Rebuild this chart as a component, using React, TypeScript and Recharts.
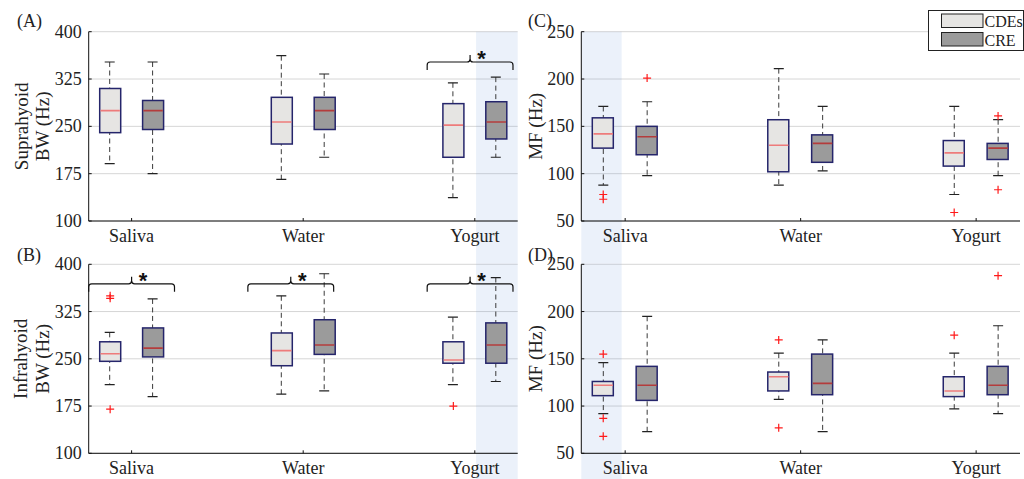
import React from 'react';
import {
  ComposedChart,
  Bar,
  Scatter,
  XAxis,
  YAxis,
  CartesianGrid,
  ReferenceArea,
  ReferenceLine,
} from 'recharts';

// ---------------- data ----------------
const categories = ['Saliva', 'Water', 'Yogurt'];
const groups = ['CDEs', 'CRE'];

// each row: [lower whisker, Q1, median, Q3, upper whisker] for Saliva, Water, Yogurt
const supraCDEs = [[191, 240, 275, 310, 352], [166, 222, 257, 296, 362], [137, 201, 252, 286, 319]];
const supraCRE = [[175, 245, 275, 291, 352], [201, 245, 275, 296, 333], [201, 230, 257, 289, 328]];
const supraCDEsOut: number[][] = [[], [], []];
const supraCREOut: number[][] = [[], [], []];

const infraCDEs = [[209, 246, 258, 277, 292], [194, 239, 263, 291, 350], [209, 243, 248, 277, 316]];
const infraCRE = [[190, 253, 267, 299, 345], [199, 257, 272, 312, 385], [214, 243, 272, 307, 379]];
const infraCDEsOut = [[350, 346, 170], [], [175]];
const infraCREOut: number[][] = [[], [], []];

const mfSupraCDEs = [[88, 127, 142, 159, 171], [88, 102, 130, 157, 211], [78, 108, 122, 135, 171]];
const mfSupraCRE = [[98, 120, 139, 150, 176], [103, 112, 132, 141, 171], [98, 115, 127, 132, 157]];
const mfSupraCDEsOut = [[78, 73], [], [59]];
const mfSupraCREOut = [[201], [], [161, 83]];

const mfInfraCDEs = [[92, 111, 122, 126, 146], [107, 116, 131, 136, 156], [97, 110, 116, 131, 156]];
const mfInfraCRE = [[73, 106, 122, 142, 195], [73, 112, 124, 155, 170], [92, 112, 122, 142, 185]];
const mfInfraCDEsOut = [[155, 87, 68], [170, 77], [175]];
const mfInfraCREOut: number[][] = [[], [], [238]];

const bwTicks = [100, 175, 250, 325, 400];
const mfTicks = [50, 100, 150, 200, 250];

// significant comparisons (category index, bracket height in Hz)
const supraSig = [{ cat: 2, level: 352 }];
const infraSig = [{ cat: 0, level: 369 }, { cat: 1, level: 369 }, { cat: 2, level: 369 }];

// ---------------- style / layout ----------------
const FONT = 'Liberation Serif, Times New Roman, serif';
const TXT = '#222';
const W = 1024;
const H = 479;
const SLOTS = 10; // 3 categories x (2 boxes) spread over 10 slots
const FILL = ['#e6e5e3', '#9b9b9b'];
const BOX_STROKE = '#25256b';
const BOX_W = 21;
const CAP_W = 10;
const bracketShift = [0, -0.29, -0.11];

const slotOf = (cat: number, g: number) => cat * 4 + g;

function buildRows(cde: number[][], cre: number[][]) {
  const rows: any[] = [];
  for (let s = 0; s < SLOTS; s++) {
    const row: any = { slot: 's' + s };
    const c = Math.floor(s / 4);
    const g = s % 4;
    if (g < 2) {
      const st = (g === 0 ? cde : cre)[c];
      row.whisker = [st[0], st[4]];
      row.box = [st[1], st[3]];
      row.group = g;
    }
    rows.push(row);
  }
  return rows;
}

function buildMedians(cde: number[][], cre: number[][]) {
  const pts: any[] = [];
  [cde, cre].forEach((arr, g) =>
    arr.forEach((st, c) => pts.push({ x: slotOf(c, g) + 0.5, y: st[2], group: g }))
  );
  return pts;
}

function buildOutliers(cdeO: number[][], creO: number[][]) {
  const pts: any[] = [];
  [cdeO, creO].forEach((arr, g) =>
    arr.forEach((vals, c) => vals.forEach((v) => pts.push({ x: slotOf(c, g) + 0.5, y: v })))
  );
  return pts;
}

const WhiskerShape = (p: any) => {
  const { x, y, width, height } = p;
  if (![x, y, width, height].every((v) => Number.isFinite(v))) return <g />;
  const top = Math.min(y, y + height);
  const bot = Math.max(y, y + height);
  const cx = x + width / 2;
  return (
    <g>
      <line x1={cx} x2={cx} y1={top} y2={bot} stroke="#3a3a3a" strokeWidth={1} strokeDasharray="5 3.5" />
      <line x1={cx - CAP_W / 2} x2={cx + CAP_W / 2} y1={top} y2={top} stroke="#222" strokeWidth={1.2} />
      <line x1={cx - CAP_W / 2} x2={cx + CAP_W / 2} y1={bot} y2={bot} stroke="#222" strokeWidth={1.2} />
    </g>
  );
};

const BoxShape = (p: any) => {
  const { x, y, width, height, payload } = p;
  if (![x, y, width, height].every((v) => Number.isFinite(v))) return <g />;
  const top = Math.min(y, y + height);
  const h = Math.abs(height);
  return (
    <rect
      x={x}
      y={top}
      width={width}
      height={h}
      fill={FILL[payload?.group ?? 0]}
      stroke={BOX_STROKE}
      strokeWidth={1.5}
    />
  );
};

const MedianShape = (p: any) => {
  const { cx, cy, payload } = p;
  if (!Number.isFinite(cx) || !Number.isFinite(cy)) return <g />;
  return (
    <line
      x1={cx - BOX_W / 2 + 0.8}
      x2={cx + BOX_W / 2 - 0.8}
      y1={cy}
      y2={cy}
      stroke={payload?.group === 1 ? '#b43c3c' : '#ee7b7b'}
      strokeWidth={1.6}
    />
  );
};

const OutlierShape = (p: any) => {
  const { cx, cy } = p;
  if (!Number.isFinite(cx) || !Number.isFinite(cy)) return <g />;
  const a = 4;
  return (
    <g stroke="#ff1a1a" strokeWidth={1.2}>
      <line x1={cx - a} x2={cx + a} y1={cy} y2={cy} />
      <line x1={cx} x2={cx} y1={cy - a} y2={cy + a} />
    </g>
  );
};

const BracketShape = (p: any) => {
  const { x1, x2, y1 } = p;
  if (![x1, x2, y1].every((v) => Number.isFinite(v))) return <g />;
  const y = y1;
  const xm = (x1 + x2) / 2;
  const d =
    `M${x1},${y + 8} L${x1},${y + 3} Q${x1},${y} ${x1 + 3},${y} L${xm - 3},${y} Q${xm},${y} ${xm},${y - 3} L${xm},${y - 7} ` +
    `M${xm},${y - 3} Q${xm},${y} ${xm + 3},${y} L${x2 - 3},${y} Q${x2},${y} ${x2},${y + 3} L${x2},${y + 8}`;
  return (
    <g>
      <path d={d} fill="none" stroke="#111" strokeWidth={1.2} />
      <text
        x={xm + 11.5}
        y={y + 4.5}
        textAnchor="middle"
        fontFamily="Liberation Sans, Arial, sans-serif"
        fontWeight="bold"
        fontSize={22}
        fill="#111"
      >
        *
      </text>
    </g>
  );
};

const YTick = (p: any) => (
  <text x={p.x} y={p.y + 6} textAnchor="end" fontFamily={FONT} fontSize={18} fill={TXT}>
    {p.payload.value}
  </text>
);

const XTick = (p: any) => (
  <text x={p.x} y={p.y + 21} textAnchor="middle" fontFamily={FONT} fontSize={18} fill={TXT}>
    {categories[Math.round((p.payload.value - 1) / 4)]}
  </text>
);

const Empty = () => <g />;

interface PanelProps {
  l: number;
  r: number;
  t: number;
  b: number;
  domain: [number, number];
  ticks: number[];
  cde: number[][];
  cre: number[][];
  cdeOut: number[][];
  creOut: number[][];
  ylabel: string[];
  ylabelX: number[];
  letter: string;
  letterX: number;
  letterY: number;
  sig: { cat: number; level: number }[];
  shade: { x1: number; x2: number; y1: number; y2: number };
}

function Panel(pp: PanelProps) {
  const rows = buildRows(pp.cde, pp.cre);
  const meds = buildMedians(pp.cde, pp.cre);
  const outs = buildOutliers(pp.cdeOut, pp.creOut);
  const yW = 60;
  const xH = 30;
  const margin = { left: pp.l - yW, right: W - pp.r, top: pp.t, bottom: H - pp.b - xH };
  const cy = (pp.t + pp.b) / 2;
  return (
    <div style={{ position: 'absolute', left: 0, top: 0, width: W, height: H }}>
      <ComposedChart width={W} height={H} data={rows} margin={margin} style={{ overflow: 'visible' }}>
        <CartesianGrid horizontal vertical={false} stroke="#d6d6d6" strokeWidth={1} />
        <XAxis xAxisId="cw" dataKey="slot" type="category" hide />
        <XAxis xAxisId="cb" dataKey="slot" type="category" hide />
        <XAxis
          xAxisId={0}
          type="number"
          dataKey="x"
          domain={[0, SLOTS]}
          ticks={[1, 5, 9]}
          allowDataOverflow
          interval={0}
          height={xH}
          tickSize={-3}
          tickMargin={3}
          tick={XTick}
          axisLine={{ stroke: '#111' }}
          tickLine={{ stroke: '#111' }}
        />
        <XAxis
          xAxisId="top"
          orientation="top"
          type="number"
          domain={[0, SLOTS]}
          ticks={[1, 5, 9]}
          allowDataOverflow
          interval={0}
          height={0}
          tickSize={-3}
          tick={Empty}
          axisLine={{ stroke: '#111' }}
          tickLine={{ stroke: '#111' }}
        />
        <YAxis
          yAxisId={0}
          type="number"
          domain={pp.domain}
          ticks={pp.ticks}
          allowDataOverflow
          interval={0}
          width={yW}
          tickSize={-3}
          tickMargin={10}
          tick={YTick}
          axisLine={{ stroke: '#111' }}
          tickLine={{ stroke: '#111' }}
        />
        <YAxis
          yAxisId="r"
          orientation="right"
          type="number"
          domain={pp.domain}
          ticks={pp.ticks}
          allowDataOverflow
          interval={0}
          width={0}
          tickSize={-3}
          tick={Empty}
          axisLine={{ stroke: '#111' }}
          tickLine={{ stroke: '#111' }}
        />
        <Bar xAxisId="cw" dataKey="whisker" barSize={CAP_W} shape={WhiskerShape} isAnimationActive={false} />
        <Bar xAxisId="cb" dataKey="box" barSize={BOX_W} shape={BoxShape} isAnimationActive={false} />
        <Scatter data={meds} dataKey="y" shape={MedianShape} isAnimationActive={false} />
        <Scatter data={outs} dataKey="y" shape={OutlierShape} isAnimationActive={false} />
        {pp.sig.map((s, i) => {
          const c = slotOf(s.cat, 0) + 1 + bracketShift[s.cat];
          return (
            <ReferenceLine
              key={i}
              segment={[
                { x: c - 1.0, y: s.level },
                { x: c + 1.0, y: s.level },
              ]}
              ifOverflow="visible"
              shape={BracketShape}
            />
          );
        })}
        <ReferenceArea
          x1={pp.shade.x1}
          x2={pp.shade.x2}
          y1={pp.shade.y1}
          y2={pp.shade.y2}
          ifOverflow="visible"
          fill="rgb(100,150,220)"
          fillOpacity={0.13}
          stroke="none"
        />
      </ComposedChart>
      <svg
        width={W}
        height={H}
        style={{ position: 'absolute', left: 0, top: 0, pointerEvents: 'none', overflow: 'visible' }}
      >
        {pp.ylabel.map((txt, i) => (
          <text
            key={i}
            x={pp.ylabelX[i]}
            y={cy}
            transform={`rotate(-90 ${pp.ylabelX[i]} ${cy})`}
            textAnchor="middle"
            dominantBaseline="central"
            fontFamily={FONT}
            fontSize={19}
            fill={TXT}
          >
            {txt}
          </text>
        ))}
        <text x={pp.letterX} y={pp.letterY} fontFamily={FONT} fontSize={18} fill={TXT}>
          {pp.letter}
        </text>
      </svg>
    </div>
  );
}

function LegendBox() {
  return (
    <svg width={W} height={H} style={{ position: 'absolute', left: 0, top: 0, pointerEvents: 'none' }}>
      <rect x={928.5} y={10.5} width={95} height={40} fill="#fff" stroke="#222" strokeWidth={1} />
      {groups.map((g, i) => (
        <g key={g}>
          <rect x={941.5} y={14 + i * 18.5} width={41.5} height={13.5} fill={FILL[i]} stroke="#222" strokeWidth={1} />
          <text x={984.5} y={27 + i * 18.5} fontFamily={FONT} fontSize={16} fill={TXT}>
            {g}
          </text>
        </g>
      ))}
    </svg>
  );
}

export default function App() {
  const L1 = 88.7, R1 = 517.7, L2 = 581.3, R2 = 1020;
  const T1 = 31.7, B1 = 221, T2 = 264.3, B2 = 453.3;
  return (
    <div style={{ position: 'absolute', left: 0, top: 0, width: W, height: H, background: '#fff', overflow: 'hidden' }}>
      <Panel
        l={L1} r={R1} t={T1} b={B1}
        domain={[100, 400]} ticks={bwTicks}
        cde={supraCDEs} cre={supraCRE} cdeOut={supraCDEsOut} creOut={supraCREOut}
        ylabel={['Suprahyoid', 'BW (Hz)']} ylabelX={[22, 43]}
        letter="(A)" letterX={17} letterY={27}
        sig={supraSig}
        shade={{ x1: 9.03, x2: 10, y1: 31.4, y2: 400 }}
      />
      <Panel
        l={L1} r={R1} t={T2} b={B2}
        domain={[100, 400]} ticks={bwTicks}
        cde={infraCDEs} cre={infraCRE} cdeOut={infraCDEsOut} creOut={infraCREOut}
        ylabel={['Infrahyoid', 'BW (Hz)']} ylabelX={[21, 43]}
        letter="(B)" letterX={17} letterY={261}
        sig={infraSig}
        shade={{ x1: 9.03, x2: 10, y1: 59.3, y2: 400 }}
      />
      <Panel
        l={L2} r={R2} t={T1} b={B1}
        domain={[50, 250]} ticks={mfTicks}
        cde={mfSupraCDEs} cre={mfSupraCRE} cdeOut={mfSupraCDEsOut} creOut={mfSupraCREOut}
        ylabel={['MF (Hz)']} ylabelX={[536]}
        letter="(C)" letterX={528} letterY={27}
        sig={[]}
        shade={{ x1: 0, x2: 0.92, y1: 4.3, y2: 250 }}
      />
      <Panel
        l={L2} r={R2} t={T2} b={B2}
        domain={[50, 250]} ticks={mfTicks}
        cde={mfInfraCDEs} cre={mfInfraCRE} cdeOut={mfInfraCDEsOut} creOut={mfInfraCREOut}
        ylabel={['MF (Hz)']} ylabelX={[536]}
        letter="(D)" letterX={528} letterY={261}
        sig={[]}
        shade={{ x1: 0, x2: 0.92, y1: 22.8, y2: 250 }}
      />
      <LegendBox />
    </div>
  );
}
